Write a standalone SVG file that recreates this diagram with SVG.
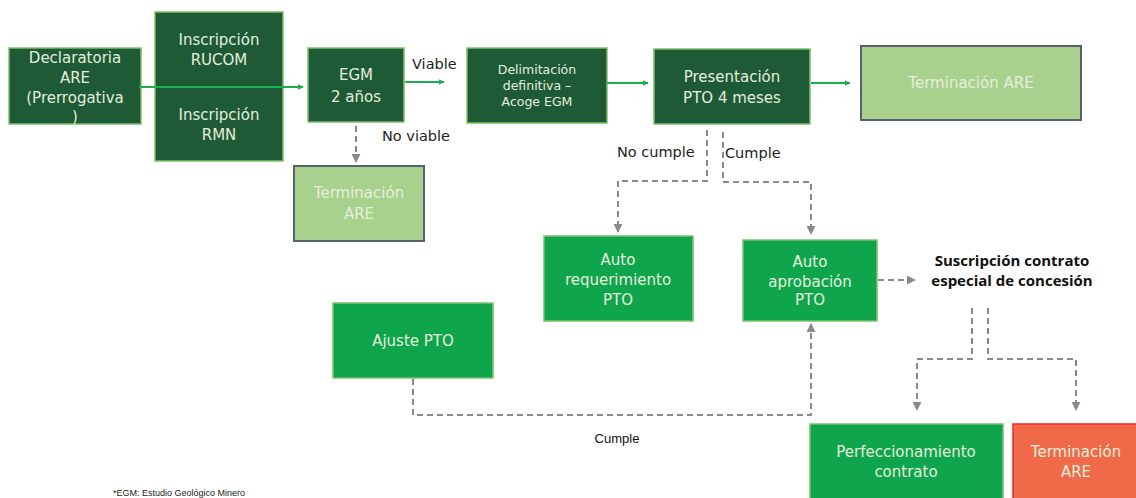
<svg xmlns="http://www.w3.org/2000/svg" width="1136" height="498" viewBox="0 0 1136 498">
<style>
text{font-family:"DejaVu Sans","Liberation Sans",sans-serif;text-anchor:middle}
.dk{fill:#1f5a36;stroke:#7dc06a;stroke-width:1.5}
.md{fill:#0fa54c;stroke:#7dc06a;stroke-width:1.5}
.lt{fill:#a9d18e;stroke:#58606a;stroke-width:2}
.rd{fill:#f06a4a;stroke:#ee2b22;stroke-width:1.5}
.wt{fill:#e3efdc;font-size:15px}
.lbl{fill:#222;font-size:14.5px;text-anchor:start}
.g{stroke:#1cae4f;stroke-width:2;fill:none;marker-end:url(#ag)}
.d{stroke:#8a8a8a;stroke-width:2;fill:none;stroke-dasharray:6 4;marker-end:url(#ad)}
.bold{font-family:"Open Sans","Liberation Sans",sans-serif;font-weight:bold;fill:#111;font-size:15px}
</style>
<defs>
<marker id="ag" viewBox="0 0 10 10" refX="9" refY="5" markerWidth="6" markerHeight="6" orient="auto" markerUnits="userSpaceOnUse"><path d="M0,0 L10,5 L0,10 z" fill="#1cae4f"/></marker>
<marker id="ad" viewBox="0 0 10 10" refX="9" refY="5" markerWidth="9" markerHeight="9" orient="auto" markerUnits="userSpaceOnUse"><path d="M0,0 L10,5 L0,10 z" fill="#8a8a8a"/></marker>
</defs>
<rect width="1136" height="498" fill="#fff"/>
<g id="declaratoria">
<rect class="dk" x="9" y="48" width="132" height="76"/>
<text class="wt"><tspan x="75" y="63">Declaratoria</tspan><tspan x="75" y="83">ARE</tspan><tspan x="75" y="103">(Prerrogativa</tspan><tspan x="75" y="122">)</tspan></text>
</g>
<g id="inscripcion">
<rect class="dk" x="155" y="12" width="128" height="149"/>
<text class="wt"><tspan x="219" y="45">Inscripción</tspan><tspan x="219" y="65">RUCOM</tspan><tspan x="219" y="120">Inscripción</tspan><tspan x="219" y="140">RMN</tspan></text>
</g>
<g id="egm">
<rect class="dk" x="308" y="48" width="96" height="74"/>
<text class="wt"><tspan x="356" y="80">EGM</tspan><tspan x="356" y="102">2 años</tspan></text>
</g>
<g id="delimitacion">
<rect class="dk" x="467" y="48" width="140" height="75"/>
<text class="wt" style="font-size:12.5px"><tspan x="537" y="74">Delimitación</tspan><tspan x="537" y="90">definitiva –</tspan><tspan x="537" y="106">Acoge EGM</tspan></text>
</g>
<g id="presentacion">
<rect class="dk" x="654" y="49" width="156" height="75"/>
<text class="wt"><tspan x="732" y="82">Presentación</tspan><tspan x="732" y="103">PTO 4 meses</tspan></text>
</g>
<g id="terminacion1">
<rect class="lt" x="861" y="46" width="220" height="74"/>
<text class="wt" x="971" y="88">Terminación ARE</text>
</g>
<g id="terminacion2">
<rect class="lt" x="294" y="166" width="130" height="75"/>
<text class="wt"><tspan x="359" y="198">Terminación</tspan><tspan x="359" y="219">ARE</tspan></text>
</g>
<g id="requerimiento">
<rect class="md" x="544" y="236" width="149" height="85"/>
<text class="wt"><tspan x="618" y="265">Auto</tspan><tspan x="618" y="285">requerimiento</tspan><tspan x="618" y="305">PTO</tspan></text>
</g>
<g id="aprobacion">
<rect class="md" x="743" y="240" width="134" height="81"/>
<text class="wt"><tspan x="810" y="267">Auto</tspan><tspan x="810" y="287">aprobación</tspan><tspan x="810" y="305">PTO</tspan></text>
</g>
<g id="suscripcion">
<text class="bold"><tspan x="1012" y="266">Suscripción contrato</tspan><tspan x="1012" y="286">especial de concesión</tspan></text>
</g>
<g id="ajuste">
<rect class="md" x="333" y="303" width="160" height="75"/>
<text class="wt" x="413" y="346">Ajuste PTO</text>
</g>
<g id="perfeccionamiento">
<rect class="md" x="810" y="424" width="193" height="80"/>
<text class="wt"><tspan x="906" y="457">Perfeccionamiento</tspan><tspan x="906" y="477">contrato</tspan></text>
</g>
<g id="terminacion3">
<rect class="rd" x="1013" y="424" width="130" height="80"/>
<text class="wt"><tspan x="1076" y="457">Terminación</tspan><tspan x="1076" y="477">ARE</tspan></text>
</g>
<g id="connectors">
<path class="g" d="M139,87 H303"/>
<path class="g" d="M405,82 H444"/>
<path class="g" d="M607,83 H648"/>
<path class="g" d="M811,83 H850"/>
<path class="d" d="M356,126 V162"/>
<path class="d" d="M707,130 V181 H618 V232"/>
<path class="d" d="M723,132 V182 H811 V234"/>
<path class="d" d="M878,280 H915"/>
<path class="d" d="M972,308 V359 H917 V410"/>
<path class="d" d="M988,308 V359 H1076 V410"/>
<path class="d" d="M413,379 V415 H811 V324"/>
<text class="lbl" x="412" y="69">Viable</text>
<text class="lbl" x="382" y="141">No viable</text>
<text class="lbl" x="617" y="157">No cumple</text>
<text class="lbl" x="725" y="158">Cumple</text>
<text x="617" y="443" style="font-family:'Liberation Sans Narrow','Liberation Sans',sans-serif;font-size:13px;fill:#111;font-stretch:condensed">Cumple</text>
</g>
<text x="113" y="496" style="font-family:'Liberation Sans',sans-serif;font-size:9px;fill:#222;text-anchor:start">*EGM: Estudio Geológico Minero</text>
</svg>
